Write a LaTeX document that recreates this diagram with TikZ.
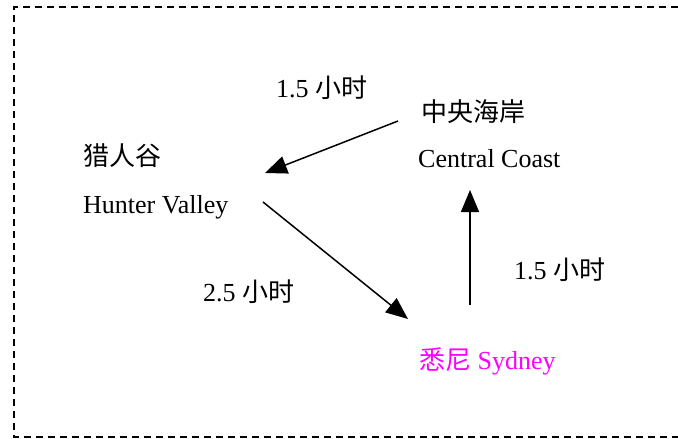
\documentclass[tikz,border=0pt]{standalone}
\usepackage{fontspec}
\setmainfont{Liberation Serif}
\newfontfamily\cjk{Noto Sans CJK SC}
\usetikzlibrary{arrows.meta}
\definecolor{syd}{RGB}{255,0,255}
\tikzset{
  lbl/.style={inner sep=0pt, anchor=base west, font=\fontsize{26}{30}\selectfont},
  conn/.style={line width=1.5pt, -{Triangle[length=22pt,width=18pt]}},
  frame/.style={line width=1.3pt, dash pattern=on 7pt off 5pt}
}
\begin{document}
\begin{tikzpicture}[x=1pt,y=-1pt]
\useasboundingbox (0,0) rectangle (678,439);
\draw[frame] (690,7) -- (14,7) -- (14,437) -- (690,437);
\node[lbl] (t1) at (276,97) {1.5 {\cjk 小时}};
\node[lbl] (ccz) at (421,121) {\cjk 中央海岸};
\node[lbl] (cce) at (418,167) {Central Coast};
\node[lbl] (hvz) at (83,165) {\cjk 猎人谷};
\node[lbl] (hve) at (83,213) {Hunter Valley};
\node[lbl] (t2) at (203,301) {2.5 {\cjk 小时}};
\node[lbl] (t3) at (514,279) {1.5 {\cjk 小时}};
\node[lbl, text=syd] (syd) at (419,369) {{\cjk 悉尼} Sydney};
\coordinate (a1s) at (398,121);
\coordinate (a1e) at (265,173);
\coordinate (a2s) at (263,202);
\coordinate (a2e) at (408,319);
\coordinate (a3s) at (470,305);
\coordinate (a3e) at (470,190);
\draw[conn] (a1s) -- (a1e);
\draw[conn] (a2s) -- (a2e);
\draw[conn] (a3s) -- (a3e);
\end{tikzpicture}
\end{document}
